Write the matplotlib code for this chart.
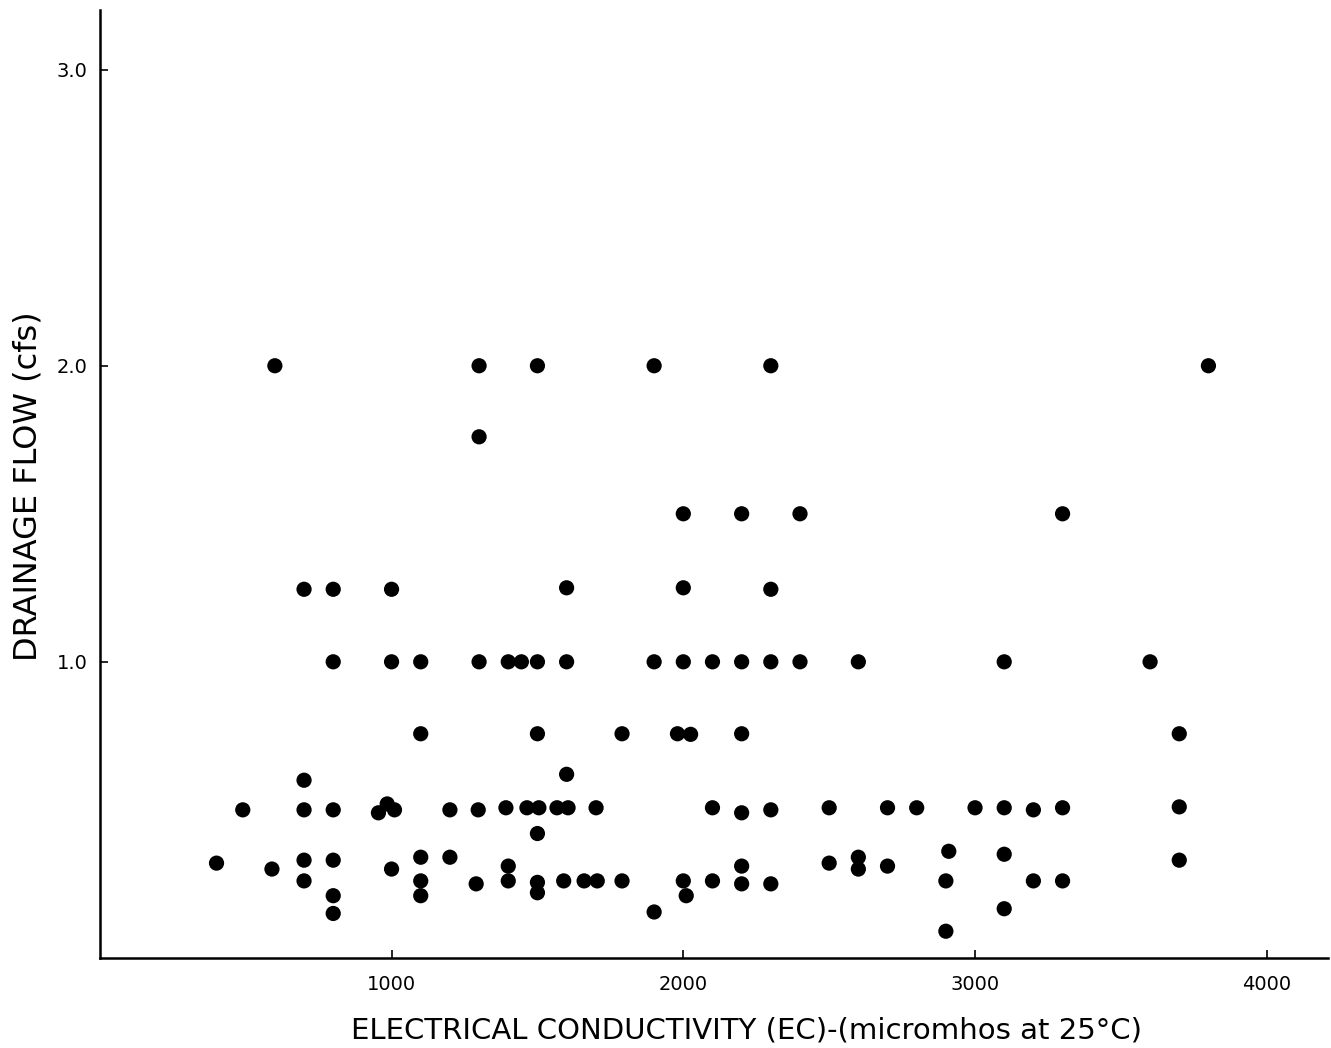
import matplotlib
matplotlib.use('Agg')
import matplotlib.pyplot as plt

# Electrical conductivity (micromhos at 25C) and drainage flow (cfs)
ec = [600, 1300, 1500, 1900, 2300, 3800,
      1300,
      2000, 2200, 2400, 3300,
      700, 800, 1000, 1600, 2000, 2300,
      800, 1000, 1100, 1300, 1400, 1445, 1500, 1600, 1900, 2000, 2100, 2200, 2300, 2400, 2600, 3100, 3600,
      1100, 1500, 1790, 1980, 2025, 2200, 3700,
      1600, 700,
      490, 700, 800, 955, 985, 1010, 1200, 1297, 1392, 1464, 1505, 1567, 1605, 1701,
      2100, 2200, 2300, 2500, 2700, 2800, 3000, 3100, 3200, 3300, 3700,
      1500,
      400, 590, 700, 800, 1000, 1100, 1200, 1400, 2200, 2500, 2600, 2600, 2700, 2910, 3100, 3700,
      700, 1100, 1290, 1400, 1500, 1590, 1660, 1705, 1790, 2000, 2100, 2200, 2300, 2900, 3200, 3300,
      800, 1100, 1500, 2010,
      800, 1900, 3100,
      2900]
flow = [2.0, 2.0, 2.0, 2.0, 2.0, 2.0,
        1.76,
        1.5, 1.5, 1.5, 1.5,
        1.245, 1.245, 1.245, 1.25, 1.25, 1.245,
        1.0, 1.0, 1.0, 1.0, 1.0, 1.0, 1.0, 1.0, 1.0, 1.0, 1.0, 1.0, 1.0, 1.0, 1.0, 1.0, 1.0,
        0.757, 0.757, 0.757, 0.757, 0.755, 0.757, 0.757,
        0.62, 0.60,
        0.50, 0.50, 0.50, 0.49, 0.52, 0.50, 0.50, 0.50, 0.507, 0.507, 0.507, 0.507, 0.507, 0.507,
        0.507, 0.49, 0.50, 0.507, 0.507, 0.507, 0.507, 0.507, 0.50, 0.507, 0.51,
        0.42,
        0.32, 0.30, 0.33, 0.33, 0.30, 0.34, 0.34, 0.31, 0.31, 0.32, 0.34, 0.30, 0.31, 0.36, 0.35, 0.33,
        0.26, 0.26, 0.25, 0.26, 0.255, 0.26, 0.26, 0.26, 0.26, 0.26, 0.26, 0.25, 0.25, 0.26, 0.26, 0.26,
        0.21, 0.21, 0.22, 0.21,
        0.15, 0.155, 0.166,
        0.09]

fig = plt.figure(figsize=(13.31, 10.48), dpi=100)
ax = fig.add_axes([0.075, 0.086, 0.923, 0.904])

ax.scatter(ec, flow, s=120, color='black', edgecolors='none', zorder=3)

ax.set_xlim(0, 4211)
ax.set_ylim(0, 3.2)
ax.set_xticks([1000, 2000, 3000, 4000])
ax.set_xticklabels(['1000', '2000', '3000', '4000'])
ax.set_yticks([1.0, 2.0, 3.0])
ax.set_yticklabels(['1.0', '2.0', '3.0'])

for side in ['top', 'right']:
    ax.spines[side].set_visible(False)
for side in ['left', 'bottom']:
    ax.spines[side].set_linewidth(1.8)

ax.tick_params(axis='both', direction='in', length=6, width=1.2, labelsize=14)
ax.tick_params(axis='x', pad=12)
ax.tick_params(axis='y', pad=9)

# axis titles placed in figure coords to match the original layout
fig.text(0.561, 0.017, 'ELECTRICAL CONDUCTIVITY (EC)-(micromhos at 25°C)',
         fontsize=21, ha='center', va='center')
fig.text(0.021, 0.536, 'DRAINAGE FLOW (cfs)', fontsize=23, rotation=90,
         ha='center', va='center')

fig.savefig('out.png', dpi=100)
